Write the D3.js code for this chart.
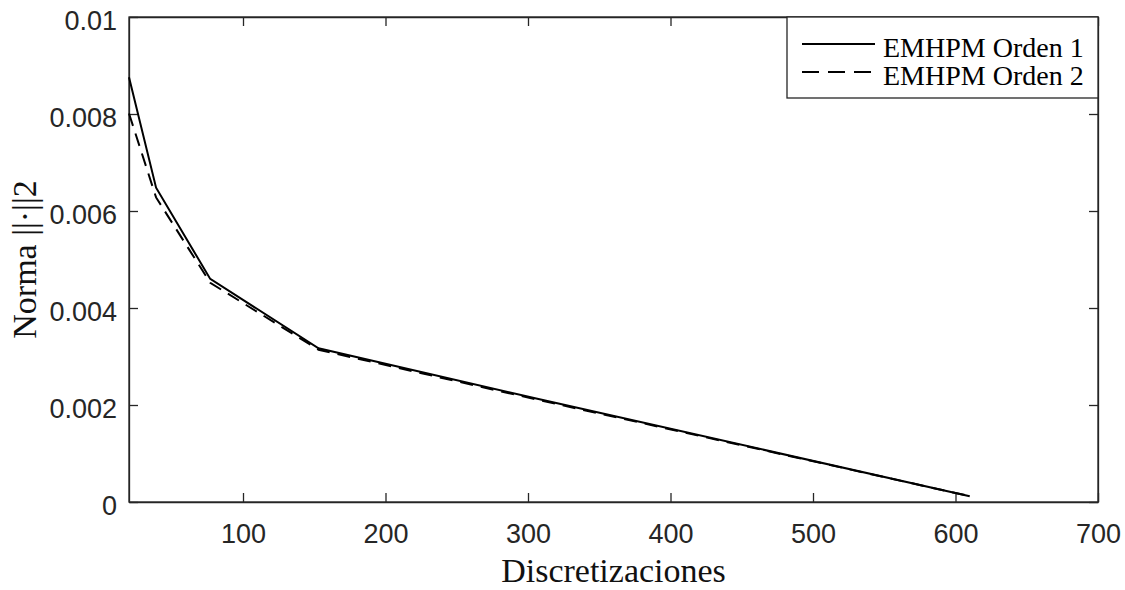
<!DOCTYPE html>
<html>
<head>
<meta charset="utf-8">
<script src="https://cdn.jsdelivr.net/npm/d3@7"></script>
<style>
  body { margin: 0; background: #fff; }
  svg { display: block; }
</style>
</head>
<body>
<div id="chart"></div>
<script>
// discretization counts and error norms
const discretizaciones = [20, 39, 77, 153, 305, 610];
const orden1 = [0.00876, 0.00648, 0.00460, 0.00317, 0.00214, 0.00012];
const orden2 = [0.00801, 0.00628, 0.00452, 0.00314, 0.00212, 0.00012];

const xTicks = [100, 200, 300, 400, 500, 600, 700];
const yTicks = [0, 0.002, 0.004, 0.006, 0.008, 0.01];
const yTickLabels = ["0", "0.002", "0.004", "0.006", "0.008", "0.01"];

const seriesNames = ["EMHPM Orden 1", "EMHPM Orden 2"];

const W = 1125, H = 590;
const margin = { top: 17, right: 27, bottom: 88, left: 129 };
const axisColor = "#262626";
const sans = "'Liberation Sans', Arial, sans-serif";
const serif = "'Liberation Serif', 'Times New Roman', serif";

const svg = d3.select("#chart").append("svg")
  .attr("width", W)
  .attr("height", H);

const x = d3.scaleLinear().domain([20, 700]).range([margin.left, W - margin.right]);
const y = d3.scaleLinear().domain([0, 0.01]).range([H - margin.bottom, margin.top]);

const tickLen = 9;

// bottom axis, ticks pointing inward
svg.append("g")
  .attr("transform", `translate(0,${H - margin.bottom})`)
  .call(d3.axisBottom(x).tickValues(xTicks).tickSizeInner(-tickLen).tickSizeOuter(0).tickPadding(22).tickFormat(d3.format("d")));

// top axis mirror
svg.append("g")
  .attr("transform", `translate(0,${margin.top})`)
  .call(d3.axisTop(x).tickValues(xTicks).tickSizeInner(-tickLen).tickSizeOuter(0).tickFormat(""));

// left axis
svg.append("g")
  .attr("class", "yleft")
  .attr("transform", `translate(${margin.left},0)`)
  .call(d3.axisLeft(y).tickValues(yTicks).tickSizeInner(-tickLen).tickSizeOuter(0).tickPadding(12)
    .tickFormat((d, i) => yTickLabels[i]));

// right axis mirror
svg.append("g")
  .attr("transform", `translate(${W - margin.right},0)`)
  .call(d3.axisRight(y).tickValues(yTicks).tickSizeInner(-tickLen).tickSizeOuter(0).tickFormat(""));

svg.selectAll(".domain").attr("stroke", axisColor).attr("stroke-width", 1.3);
svg.selectAll(".tick line").attr("stroke", axisColor).attr("stroke-width", 1.3);
svg.selectAll(".tick text")
  .attr("fill", axisColor)
  .style("font-family", sans)
  .style("font-size", "27px");
svg.selectAll(".yleft .tick text").attr("dy", "0.45em");

// box around plot
svg.append("rect")
  .attr("x", margin.left)
  .attr("y", margin.top)
  .attr("width", W - margin.left - margin.right)
  .attr("height", H - margin.top - margin.bottom)
  .attr("fill", "none")
  .attr("stroke", axisColor)
  .attr("stroke-width", 1.3);

// lines
const line = (vals) => d3.line()
  .x((d, i) => x(discretizaciones[i]))
  .y(d => y(d))(vals);

svg.append("path")
  .attr("d", line(orden2))
  .attr("fill", "none")
  .attr("stroke", "#000")
  .attr("stroke-width", 2)
  .attr("stroke-dasharray", "13,8");

svg.append("path")
  .attr("d", line(orden1))
  .attr("fill", "none")
  .attr("stroke", "#000")
  .attr("stroke-width", 2);

// axis labels
svg.append("text")
  .attr("x", (margin.left + W - margin.right) / 2)
  .attr("y", 582)
  .attr("text-anchor", "middle")
  .style("font-family", serif)
  .style("font-size", "34px")
  .attr("fill", "#111")
  .text("Discretizaciones");

svg.append("text")
  .attr("transform", `translate(36,${(margin.top + H - margin.bottom) / 2}) rotate(-90)`)
  .attr("text-anchor", "middle")
  .style("font-family", serif)
  .style("font-size", "34px")
  .attr("fill", "#111")
  .text("Norma ||·||2");

// legend
const lg = svg.append("g");
lg.append("rect")
  .attr("x", 787)
  .attr("y", margin.top)
  .attr("width", W - margin.right - 787)
  .attr("height", 81)
  .attr("fill", "#fff")
  .attr("stroke", axisColor)
  .attr("stroke-width", 1.3);

seriesNames.forEach((name, i) => {
  const yy = 44 + i * 28;
  lg.append("line")
    .attr("x1", 802).attr("x2", 875)
    .attr("y1", yy).attr("y2", yy)
    .attr("stroke", "#000")
    .attr("stroke-width", 2)
    .attr("stroke-dasharray", i === 1 ? "17,9" : null);
  lg.append("text")
    .attr("x", 883)
    .attr("y", yy + 6)
    .attr("dy", "0.25em")
    .style("font-family", serif)
    .style("font-size", "28px")
    .attr("fill", "#000")
    .text(name);
});
</script>
</body>
</html>
